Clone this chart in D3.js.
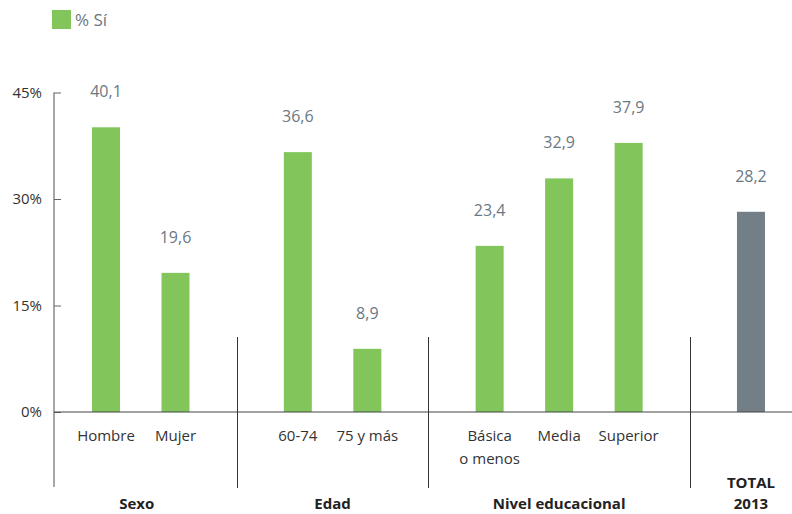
<!DOCTYPE html>
<html><head><meta charset="utf-8">
<script src="https://cdn.jsdelivr.net/npm/d3@7"></script>
<style>body{margin:0;background:#fff}svg{display:block;font-family:"Open Sans",sans-serif}</style>
</head><body><svg id="c" width="792" height="514"></svg>
<script>
const groups = ["Sexo", "Edad", "Nivel educacional", "TOTAL 2013"];
const categories = [["Hombre"], ["Mujer"], ["60-74"], ["75 y más"], ["Básica", "o menos"], ["Media"], ["Superior"], [""]];
const categoryGroup = [0, 0, 1, 1, 2, 2, 2, 3];
const values = [40.1, 19.6, 36.6, 8.9, 23.4, 32.9, 37.9, 28.2];
const valueLabels = ["40,1", "19,6", "36,6", "8,9", "23,4", "32,9", "37,9", "28,2"];
const yTicks = [0, 15, 30, 45];
const legendLabel = "% Sí";

const svg = d3.select("#c");
const green = "#82c55b", grey = "#737f87", labelGrey = "#6b7883";

// slot positions: within-group step 1, between-group step 1.76
const gapStep = 1.76;
const slots = [];
let s = 0;
categoryGroup.forEach((g, i) => {
  if (i > 0) s += (g === categoryGroup[i - 1]) ? 1 : gapStep;
  slots.push(s);
});
const x = d3.scaleLinear().domain([0, 1]).range([106, 175.5]);
const y = d3.scaleLinear().domain([0, 45]).range([412, 92.5]);
const barW = 28;

// y axis
const axisX = 54;
svg.append("line").attr("x1", axisX).attr("x2", axisX).attr("y1", y(45)).attr("y2", 487)
  .attr("stroke", "#8a8a8a").attr("stroke-width", 1.5);
const yAxis = d3.axisRight(y).tickValues(yTicks).tickSize(7).tickFormat("");
const ya = svg.append("g").attr("transform", `translate(${axisX},0)`).call(yAxis);
ya.select(".domain").remove();
ya.selectAll(".tick line").attr("stroke", "#666").attr("stroke-width", 1);
svg.selectAll(".ylab").data(yTicks).enter().append("text")
  .attr("x", 42).attr("y", d => y(d) + 5).attr("text-anchor", "end")
  .attr("font-size", 15).attr("fill", "#333").text(d => d + "%");

// bars
svg.selectAll(".bar").data(values).enter().append("rect")
  .attr("x", (d, i) => x(slots[i]) - barW / 2).attr("width", barW)
  .attr("y", d => y(d)).attr("height", d => y(0) - y(d))
  .attr("fill", (d, i) => categoryGroup[i] === 3 ? grey : green);

// value labels
svg.selectAll(".val").data(values).enter().append("text")
  .attr("x", (d, i) => x(slots[i])).attr("y", d => y(d) - 30)
  .attr("text-anchor", "middle").attr("font-size", 16).attr("fill", labelGrey)
  .text((d, i) => valueLabels[i]);

// baseline
svg.append("line").attr("x1", axisX).attr("x2", 792).attr("y1", y(0)).attr("y2", y(0))
  .attr("stroke", "#444").attr("stroke-width", 1);

// category labels
categories.forEach((lines, i) => {
  const t = svg.append("text").attr("x", x(slots[i])).attr("y", 441)
    .attr("text-anchor", "middle").attr("font-size", 15).attr("fill", "#333");
  lines.forEach((l, j) => t.append("tspan").attr("x", x(slots[i])).attr("dy", j ? 23 : 0).text(l));
});

// separators & group labels
const groupIdx = d3.range(groups.length);
const gInfo = groupIdx.map(g => {
  const idx = categoryGroup.map((c, i) => c === g ? i : -1).filter(i => i >= 0);
  return { first: x(slots[idx[0]]), last: x(slots[idx[idx.length - 1]]) };
});
for (let g = 1; g < groups.length; g++) {
  const sx = Math.round((gInfo[g - 1].last + gInfo[g].first) / 2) + 0.5;
  svg.append("line").attr("x1", sx).attr("x2", sx).attr("y1", 337).attr("y2", 488)
    .attr("stroke", "#333").attr("stroke-width", 1);
}
groups.forEach((gname, g) => {
  const cx = (gInfo[g].first + gInfo[g].last) / 2 - (g === 0 ? 4 : 0);
  const parts = gname === "TOTAL 2013" ? ["TOTAL", "2013"] : [gname];
  const t = svg.append("text").attr("x", cx).attr("y", parts.length > 1 ? 488 : 509)
    .attr("text-anchor", "middle").attr("font-size", 15).attr("font-weight", "bold").attr("fill", "#222");
  parts.forEach((p, j) => t.append("tspan").attr("x", cx).attr("dy", j ? 21 : 0).text(p));
});

// legend
svg.append("rect").attr("x", 52).attr("y", 10).attr("width", 19).attr("height", 19).attr("fill", green);
svg.append("text").attr("x", 75).attr("y", 26).attr("font-size", 17).attr("fill", labelGrey).text(legendLabel);
</script></body></html>
